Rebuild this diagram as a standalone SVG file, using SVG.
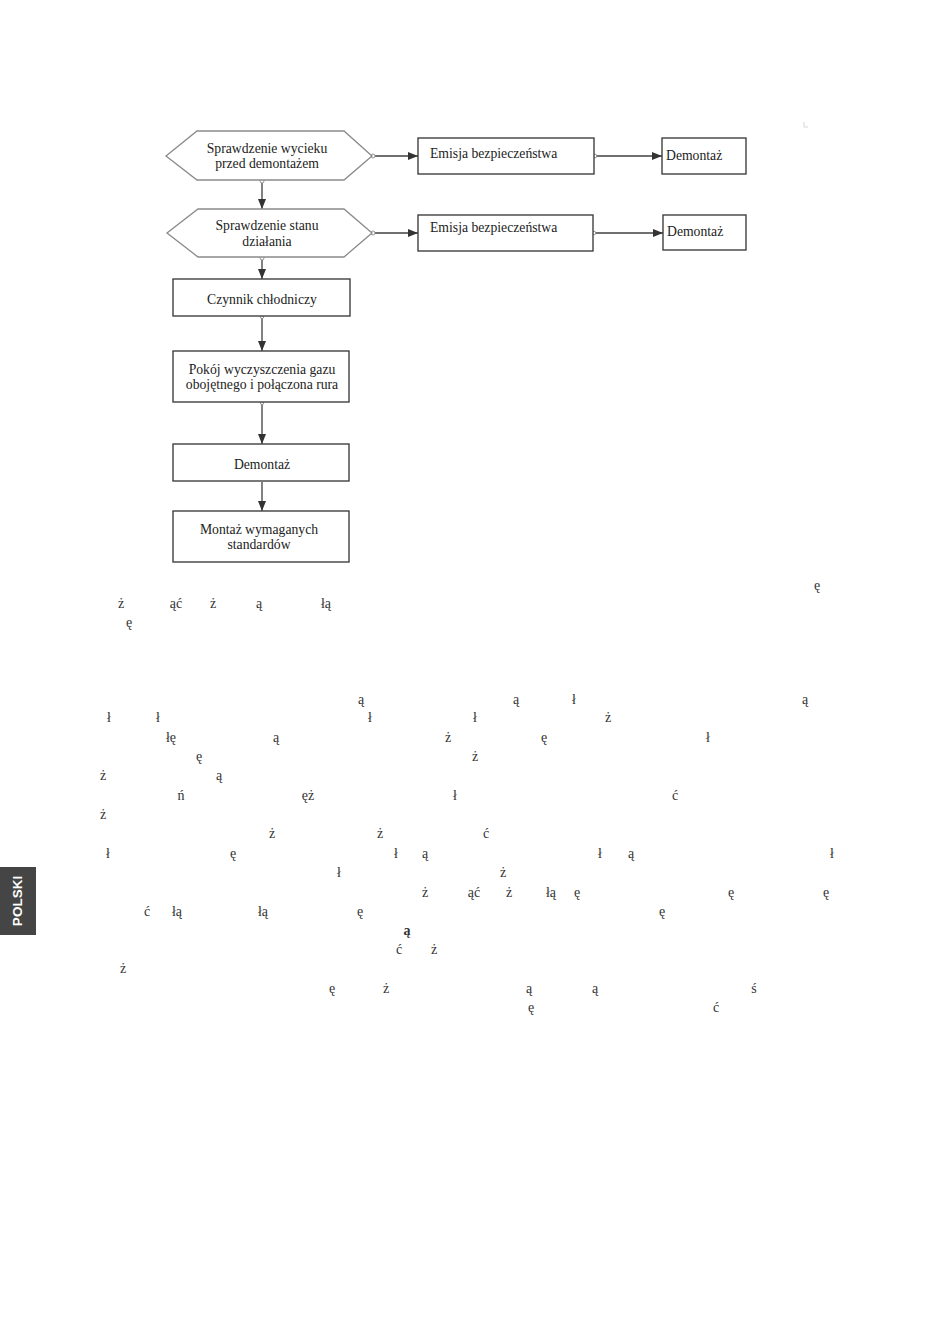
<svg xmlns="http://www.w3.org/2000/svg" width="950" height="1344" viewBox="0 0 950 1344">
<style>
.hex{fill:#fff;stroke:#8a8a8a;stroke-width:1.3}
.box{fill:#fff;stroke:#404040;stroke-width:1.4}
.lbl{font-family:"Liberation Serif","Times New Roman",serif;font-size:13.7px;fill:#222}
.c{text-anchor:middle}
.con{stroke:#404040;stroke-width:1.3;fill:none}
.dot{fill:#fff;stroke:#888;stroke-width:0.9}
.frag{font-family:"Liberation Serif","Times New Roman",serif;font-size:14px;fill:#333;text-anchor:middle}
</style>
<defs>
<marker id="arr" viewBox="0 0 10 8" refX="10" refY="4" markerWidth="11" markerHeight="8" markerUnits="userSpaceOnUse" orient="auto">
<path d="M0,0 L10,4 L0,8 z" fill="#333"/>
</marker>
</defs>
<rect width="950" height="1344" fill="#fff"/>

<g id="connectors">
<line class="con" x1="374" y1="156" x2="418" y2="156" marker-end="url(#arr)"/>
<line class="con" x1="596" y1="156" x2="662" y2="156" marker-end="url(#arr)"/>
<line class="con" x1="374" y1="233" x2="418" y2="233" marker-end="url(#arr)"/>
<line class="con" x1="595" y1="233" x2="663" y2="233" marker-end="url(#arr)"/>
<line class="con" x1="262" y1="182" x2="262" y2="209" marker-end="url(#arr)"/>
<line class="con" x1="262" y1="259" x2="262" y2="279" marker-end="url(#arr)"/>
<line class="con" x1="262" y1="317" x2="262" y2="351" marker-end="url(#arr)"/>
<line class="con" x1="262" y1="403" x2="262" y2="444" marker-end="url(#arr)"/>
<line class="con" x1="262" y1="482" x2="262" y2="511" marker-end="url(#arr)"/>
<circle class="dot" cx="373" cy="156" r="2"/>
<circle class="dot" cx="595" cy="156" r="1.8"/>
<circle class="dot" cx="373" cy="233" r="2"/>
<circle class="dot" cx="594" cy="233" r="1.8"/>
<circle class="dot" cx="262" cy="181" r="2"/>
<circle class="dot" cx="262" cy="258" r="2"/>
<circle class="dot" cx="262" cy="317" r="1.6"/>
<circle class="dot" cx="262" cy="403" r="1.6"/>
</g>

<g id="hex1">
<polygon class="hex" points="166,156 197,131 344,131 372,156 344,180 197,180"/>
<text class="lbl c" x="267" y="153">Sprawdzenie wycieku</text>
<text class="lbl c" x="267" y="168">przed demontażem</text>
</g>
<g id="emisja1">
<rect class="box" x="418" y="138" width="176" height="36"/>
<text class="lbl" x="430" y="158">Emisja bezpieczeństwa</text>
</g>
<g id="demontaz1">
<rect class="box" x="662" y="138" width="84" height="36"/>
<text class="lbl" x="666" y="160">Demontaż</text>
</g>

<g id="hex2">
<polygon class="hex" points="167,233 198,209 344,209 372,233 344,257 198,257"/>
<text class="lbl c" x="267" y="230">Sprawdzenie stanu</text>
<text class="lbl c" x="267" y="246">działania</text>
</g>
<g id="emisja2">
<rect class="box" x="418" y="215" width="175" height="36"/>
<text class="lbl" x="430" y="232">Emisja bezpieczeństwa</text>
</g>
<g id="demontaz2">
<rect class="box" x="663" y="215" width="83" height="35"/>
<text class="lbl" x="667" y="236">Demontaż</text>
</g>

<g id="czynnik">
<rect class="box" x="173" y="279" width="177" height="37"/>
<text class="lbl c" x="262" y="304">Czynnik chłodniczy</text>
</g>
<g id="pokoj">
<rect class="box" x="173" y="351" width="176" height="51"/>
<text class="lbl c" x="262" y="374">Pokój wyczyszczenia gazu</text>
<text class="lbl c" x="262" y="389">obojętnego i połączona rura</text>
</g>
<g id="demontaz3">
<rect class="box" x="173" y="444" width="176" height="37"/>
<text class="lbl c" x="262" y="469">Demontaż</text>
</g>
<g id="montaz">
<rect class="box" x="173" y="511" width="176" height="51"/>
<text class="lbl c" x="259" y="534">Montaż wymaganych</text>
<text class="lbl c" x="259" y="549">standardów</text>
</g>

<path d="M804,122 L804,127 L808,127" stroke="#ccc" stroke-width="0.8" fill="none"/>

<g id="fragments">
<text class="frag" x="817" y="590">ę</text>
<text class="frag" x="121" y="608">ż</text><text class="frag" x="176" y="608">ąć</text><text class="frag" x="213" y="608">ż</text><text class="frag" x="259" y="608">ą</text><text class="frag" x="326" y="608">łą</text>
<text class="frag" x="129" y="627">ę</text>
<text class="frag" x="361" y="704">ą</text><text class="frag" x="516" y="704">ą</text><text class="frag" x="574" y="704">ł</text><text class="frag" x="805" y="704">ą</text>
<text class="frag" x="109" y="722">ł</text><text class="frag" x="158" y="722">ł</text><text class="frag" x="370" y="722">ł</text><text class="frag" x="475" y="722">ł</text><text class="frag" x="608" y="722">ż</text>
<text class="frag" x="171" y="742">łę</text><text class="frag" x="276" y="742">ą</text><text class="frag" x="448" y="742">ż</text><text class="frag" x="544" y="742">ę</text><text class="frag" x="708" y="742">ł</text>
<text class="frag" x="199" y="761">ę</text><text class="frag" x="475" y="761">ż</text>
<text class="frag" x="103" y="780">ż</text><text class="frag" x="219" y="780">ą</text>
<text class="frag" x="181" y="800">ń</text><text class="frag" x="308" y="800">ęż</text><text class="frag" x="455" y="800">ł</text><text class="frag" x="675" y="800">ć</text>
<text class="frag" x="103" y="819">ż</text>
<text class="frag" x="272" y="838">ż</text><text class="frag" x="380" y="838">ż</text><text class="frag" x="486" y="838">ć</text>
<text class="frag" x="108" y="858">ł</text><text class="frag" x="233" y="858">ę</text><text class="frag" x="396" y="858">ł</text><text class="frag" x="425" y="858">ą</text><text class="frag" x="600" y="858">ł</text><text class="frag" x="631" y="858">ą</text><text class="frag" x="832" y="858">ł</text>
<text class="frag" x="339" y="877">ł</text><text class="frag" x="503" y="877">ż</text>
<text class="frag" x="425" y="897">ż</text><text class="frag" x="474" y="897">ąć</text><text class="frag" x="509" y="897">ż</text><text class="frag" x="551" y="897">łą</text><text class="frag" x="577" y="897">ę</text><text class="frag" x="731" y="897">ę</text><text class="frag" x="826" y="897">ę</text>
<text class="frag" x="147" y="916">ć</text><text class="frag" x="177" y="916">łą</text><text class="frag" x="263" y="916">łą</text><text class="frag" x="360" y="916">ę</text><text class="frag" x="662" y="916">ę</text>
<text class="frag" x="407" y="935" font-weight="bold">ą</text>
<text class="frag" x="399" y="954">ć</text><text class="frag" x="434" y="954">ż</text>
<text class="frag" x="123" y="973">ż</text>
<text class="frag" x="332" y="993">ę</text><text class="frag" x="386" y="993">ż</text><text class="frag" x="529" y="993">ą</text><text class="frag" x="595" y="993">ą</text><text class="frag" x="754" y="993">ś</text>
<text class="frag" x="531" y="1012">ę</text><text class="frag" x="716" y="1012">ć</text>
</g>

<g id="tab">
<rect x="0" y="867" width="36" height="68" fill="#454545"/>
<text x="0" y="0" transform="translate(22,901) rotate(-90)" text-anchor="middle" font-family="Liberation Sans,Arial,sans-serif" font-weight="bold" font-size="13.5" fill="#fff">POLSKI</text>
</g>
</svg>
